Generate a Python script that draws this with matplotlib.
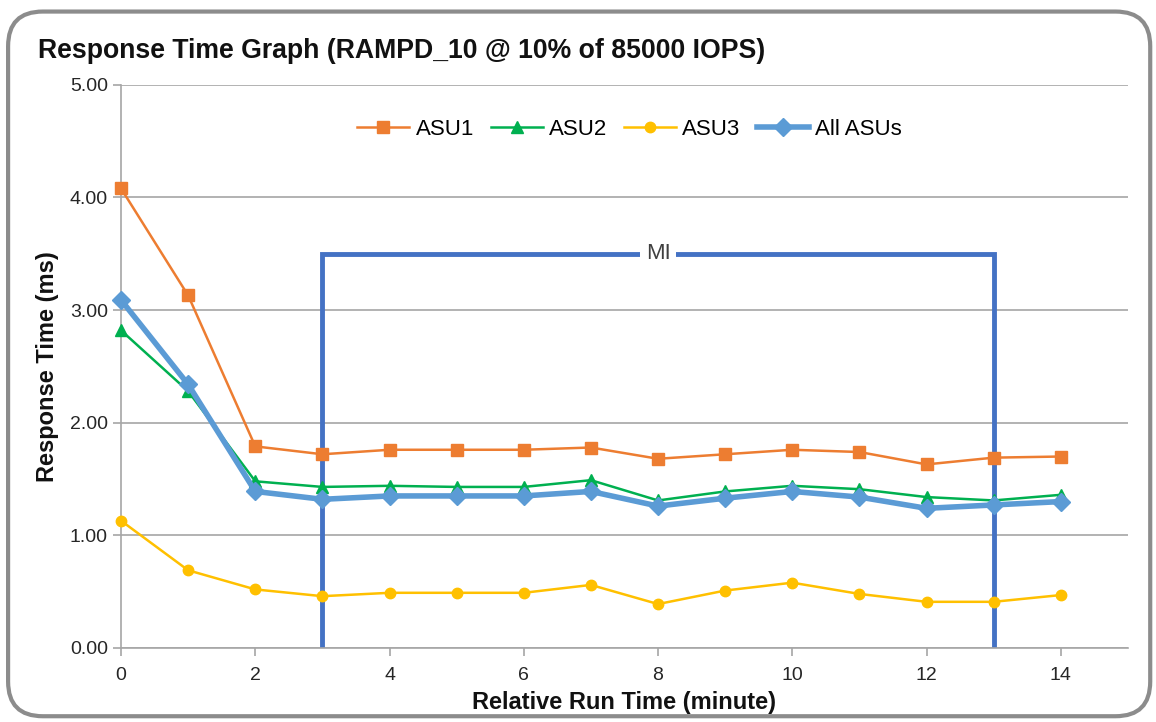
import matplotlib
matplotlib.use("Agg")
import matplotlib.pyplot as plt
from matplotlib.patches import FancyBboxPatch

plt.rcParams['font.family'] = ['Liberation Sans', 'DejaVu Sans']

minutes = list(range(15))
asu1 = [4.08, 3.13, 1.79, 1.72, 1.76, 1.76, 1.76, 1.78, 1.68, 1.72, 1.76, 1.74, 1.63, 1.69, 1.70]
asu2 = [2.82, 2.28, 1.48, 1.43, 1.44, 1.43, 1.43, 1.49, 1.31, 1.39, 1.44, 1.41, 1.34, 1.31, 1.36]
asu3 = [1.13, 0.69, 0.52, 0.46, 0.49, 0.49, 0.49, 0.56, 0.39, 0.51, 0.58, 0.48, 0.41, 0.41, 0.47]
all_asus = [3.09, 2.34, 1.39, 1.32, 1.35, 1.35, 1.35, 1.39, 1.26, 1.33, 1.39, 1.34, 1.24, 1.27, 1.30]
mi_start, mi_end, mi_level = 3, 13, 3.5
xticks = list(range(0, 15, 2))
yticks = [0, 1, 2, 3, 4, 5]

fig = plt.figure(figsize=(11.56, 7.22), dpi=100)
border = FancyBboxPatch((0.007, 0.008), 0.988, 0.976, boxstyle="round,pad=0,rounding_size=0.03",
                        transform=fig.transFigure, facecolor='none', edgecolor='#8c8c8c',
                        linewidth=3, mutation_aspect=1156/722, zorder=10)
fig.patches.append(border)

ax = fig.add_axes([0.1047, 0.1025, 0.871, 0.78])
ax.set_facecolor('none')

# MI bracket
ax.plot([mi_start, mi_start, mi_end, mi_end], [0, mi_level, mi_level, 0], color='#4472C4', lw=3.5,
        solid_joinstyle='miter', zorder=2)
ax.text((mi_start + mi_end) / 2, mi_level, 'MI', ha='center', va='center', fontsize=16,
        color='#404040', bbox=dict(facecolor='white', edgecolor='none', pad=4), zorder=3)

ax.plot(minutes, asu1, color='#ED7D31', lw=1.8, marker='s', ms=8.5, label='ASU1', zorder=4, clip_on=False)
ax.plot(minutes, asu2, color='#00B050', lw=1.8, marker='^', ms=8.5, label='ASU2', zorder=4, clip_on=False)
ax.plot(minutes, asu3, color='#FFC000', lw=1.8, marker='o', ms=7.5, label='ASU3', zorder=4, clip_on=False)
ax.plot(minutes, all_asus, color='#5B9BD5', lw=4, marker='D', ms=9, label='All ASUs', zorder=5, clip_on=False)

ax.set_xlim(0, 15)
ax.set_ylim(0, 5)
ax.set_xticks(xticks)
ax.set_yticks(yticks)
ax.set_yticklabels([f"{v:.2f}" for v in yticks])
ax.grid(axis='y', color='#a6a6a6', lw=1.2)
ax.set_axisbelow(True)
for s in ['top', 'right']:
    ax.spines[s].set_visible(False)
ax.spines['left'].set_color('#a6a6a6')
ax.spines['bottom'].set_color('#a6a6a6')
ax.spines['left'].set_linewidth(1.2)
ax.spines['bottom'].set_linewidth(1.2)
ax.tick_params(axis='both', colors='#a6a6a6', labelcolor='#262626', labelsize=14, length=6, width=1.2)
ax.tick_params(axis='x', pad=8)

ax.set_xlabel('Relative Run Time (minute)', fontsize=17, fontweight='bold', color='#111111', labelpad=5)
ax.set_ylabel('Response Time (ms)', fontsize=17, fontweight='bold', color='#111111', labelpad=8)

leg = ax.legend(loc='upper center', bbox_to_anchor=(0.505, 0.975), ncol=4, frameon=False, fontsize=16,
                handlelength=2.35, columnspacing=0.75, handletextpad=0.27)

fig.text(0.033, 0.93, 'Response Time Graph (RAMPD_10 @ 10% of 85000 IOPS)', fontsize=19.2,
         fontweight='bold', color='#111111', ha='left', va='center')

fig.savefig('out.png', dpi=100)
